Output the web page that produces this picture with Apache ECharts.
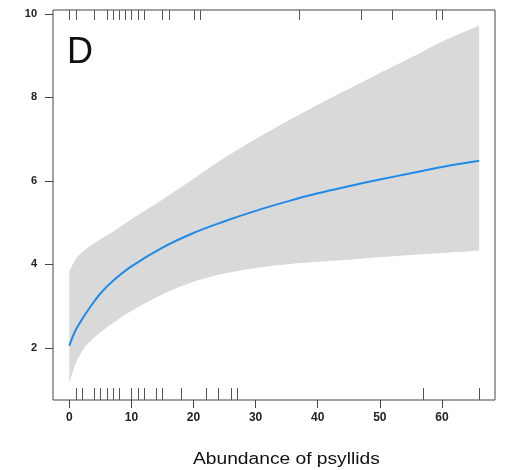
<!DOCTYPE html>
<html>
<head>
<meta charset="utf-8">
<script src="https://cdn.jsdelivr.net/npm/echarts@6/dist/echarts.min.js"></script>
<style>
html,body{margin:0;padding:0;background:#fff;}
#chart{width:508px;height:470px;}
</style>
</head>
<body>
<div id="chart"></div>
<script>
// ---- data ----
const xTicks = [0, 10, 20, 30, 40, 50, 60];
const yTicks = [2, 4, 6, 8, 10];
const fitX   = [0, 1, 2, 3, 5, 7, 10, 15, 20, 25, 30, 35, 40, 45, 50, 55, 60, 66];
const fitY   = [2.05, 2.42, 2.67, 2.9, 3.3, 3.6, 3.95, 4.4, 4.75, 5.03, 5.28, 5.5, 5.7, 5.87, 6.03, 6.18, 6.33, 6.48];
const upperY = [3.83, 4.12, 4.28, 4.40, 4.60, 4.78, 5.08, 5.55, 6.05, 6.55, 7.0, 7.42, 7.82, 8.2, 8.58, 8.95, 9.33, 9.72];
const lowerY = [1.16, 1.62, 1.9, 2.1, 2.37, 2.59, 2.88, 3.28, 3.58, 3.78, 3.91, 4.0, 4.06, 4.11, 4.17, 4.22, 4.27, 4.33];
const rugTop    = [0, 1, 4, 6, 7, 8, 9, 10, 11, 12, 15, 16, 20, 21, 37, 47, 52, 59, 60];
const rugBottom = [1, 2, 4, 5, 6, 7, 8, 10, 11, 12, 14, 15, 18, 22, 24, 26, 27, 57, 66];
const panelLabel = 'D';
const xTitle = 'Abundance of psyllids';

const X_MIN = -2.63, X_MAX = 68.55, Y_MIN = 0.75, Y_MAX = 10.09;

const chart = echarts.init(document.getElementById('chart'), null, {renderer: 'canvas'});

const fitData = fitX.map((x, i) => [x, fitY[i]]);
const upperData = fitX.map((x, i) => [x, upperY[i]]);
const lowerData = fitX.map((x, i) => [x, lowerY[i]]);

// smooth a pixel-space polyline (Catmull-Rom) for drawing only
function smoothPx(pts, steps) {
  const out = [];
  for (let i = 0; i < pts.length - 1; i++) {
    const p0 = pts[Math.max(i - 1, 0)], p1 = pts[i], p2 = pts[i + 1], p3 = pts[Math.min(i + 2, pts.length - 1)];
    for (let s = 0; s < steps; s++) {
      const t = s / steps, t2 = t * t, t3 = t2 * t;
      const f = k => 0.5 * ((2 * p1[k]) + (-p0[k] + p2[k]) * t + (2 * p0[k] - 5 * p1[k] + 4 * p2[k] - p3[k]) * t2 + (-p0[k] + 3 * p1[k] - 3 * p2[k] + p3[k]) * t3);
      out.push([f(0), f(1)]);
    }
  }
  out.push(pts[pts.length - 1]);
  return out;
}

const tickFont = {fontFamily: 'Liberation Sans, Arial, sans-serif', fontWeight: 'bold', color: '#222'};

const option = {
  animation: false,
  grid: {left: 53, right: 13, top: 10, bottom: 70, show: true, borderColor: '#444', borderWidth: 1, backgroundColor: 'transparent'},
  xAxis: {
    type: 'value', min: X_MIN, max: X_MAX,
    axisLine: {show: false, onZero: false},
    splitLine: {show: false},
    axisTick: {show: true, inside: false, length: 8, customValues: xTicks, lineStyle: {color: '#444'}},
    axisLabel: Object.assign({margin: 12, fontSize: 12, customValues: xTicks}, tickFont)
  },
  yAxis: {
    type: 'value', min: Y_MIN, max: Y_MAX,
    axisLine: {show: false, onZero: false},
    splitLine: {show: false},
    axisTick: {show: true, inside: false, length: 8, customValues: yTicks, lineStyle: {color: '#444'}},
    axisLabel: Object.assign({margin: 16, fontSize: 11, customValues: yTicks}, tickFont)
  },
  graphic: [
    {type: 'text', left: 67, top: 35, style: {text: panelLabel, font: '36px Liberation Sans, Arial, sans-serif', fill: '#111'}},
    {type: 'text', left: 193, top: 452, scaleX: 1.2, style: {text: xTitle, font: '16px Liberation Sans, Arial, sans-serif', fill: '#111'}}
  ],
  series: [
    {
      type: 'custom', name: 'band', silent: true, z: 1,
      data: [0],
      renderItem: function (params, api) {
        const up = smoothPx(upperData.map(p => api.coord(p)), 8);
        const lo = smoothPx(lowerData.map(p => api.coord(p)), 8).reverse();
        return {type: 'polygon', shape: {points: up.concat(lo)}, style: {fill: '#d9d9d9', stroke: null}};
      }
    },
    {
      type: 'line', name: 'fit', data: fitData, smooth: 0.4, showSymbol: false, z: 3,
      lineStyle: {color: '#1f8ae8', width: 2}
    },
    {
      type: 'custom', name: 'rugTop', silent: true, z: 4,
      data: rugTop.map(v => [v]),
      renderItem: function (params, api) {
        const p = api.coord([api.value(0), Y_MAX]);
        const x = Math.round(p[0]) + 0.5;
        return {type: 'line', shape: {x1: x, y1: p[1], x2: x, y2: p[1] + 10}, style: {stroke: '#555', lineWidth: 1}};
      }
    },
    {
      type: 'custom', name: 'rugBottom', silent: true, z: 4,
      data: rugBottom.map(v => [v]),
      renderItem: function (params, api) {
        const p = api.coord([api.value(0), Y_MIN]);
        const x = Math.round(p[0]) + 0.5;
        return {type: 'line', shape: {x1: x, y1: p[1], x2: x, y2: p[1] - 12}, style: {stroke: '#555', lineWidth: 1}};
      }
    }
  ]
};
chart.setOption(option);
</script>
</body>
</html>
